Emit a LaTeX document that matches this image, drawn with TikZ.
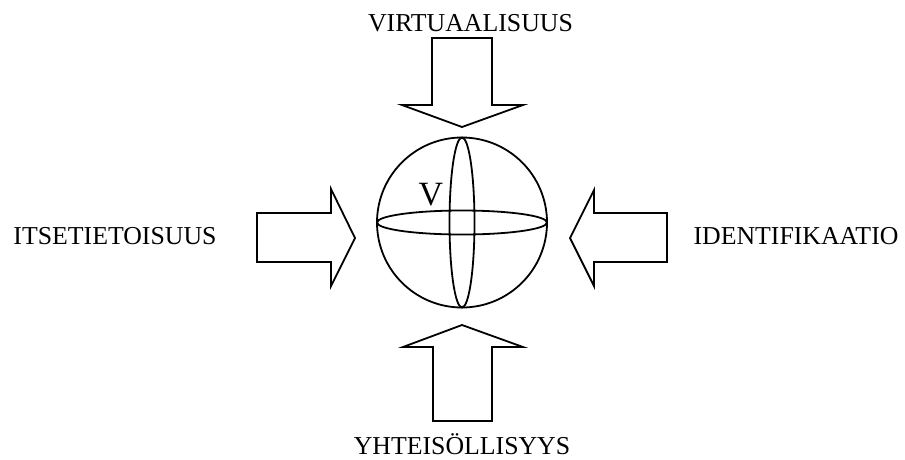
\documentclass[tikz,border=0pt]{standalone}
\usepackage{fontspec}
\setmainfont{Liberation Serif}
\begin{document}
\begin{tikzpicture}[x=1pt,y=-1pt,
  blockarrow/.style={draw=black,line width=1.8pt,fill=white,line join=miter},
  lbl/.style={font=\fontsize{25.8}{28}\selectfont,anchor=base,inner sep=0pt},
  sph/.style={draw=black,line width=1.8pt}]
\useasboundingbox (0,0) rectangle (905,459);
% sphere
\node[sph,circle,minimum size=170pt,inner sep=0pt] (globe) at (462,222.5) {};
\draw[sph] (globe.center) ellipse [x radius=85pt,y radius=12pt];
\draw[sph] (globe.center) ellipse [x radius=12.5pt,y radius=85pt];
\node[font=\fontsize{34}{36}\selectfont,anchor=base,inner sep=0pt] (v) at (431,205) {V};
% arrows
\draw[blockarrow] (432,38) -- (492,38) -- (492,105) -- (523,105) -- (462,127) -- (402,105) -- (432,105) -- cycle;
\draw[blockarrow] (257,213) -- (331,213) -- (331,189) -- (355,238) -- (331,286) -- (331,262) -- (257,262) -- cycle;
\draw[blockarrow] (667,213) -- (594,213) -- (594,190) -- (570,238) -- (594,286) -- (594,262) -- (667,262) -- cycle;
\draw[blockarrow] (433,421) -- (492,421) -- (492,347) -- (523,347) -- (462,325) -- (403,347) -- (433,347) -- cycle;
% labels
\node[lbl] (top) at (470.5,31) {VIRTUAALISUUS};
\node[lbl] (left) at (115,244) {ITSETIETOISUUS};
\node[lbl] (right) at (796,244) {IDENTIFIKAATIO};
\node[lbl] (bottom) at (462,454) {YHTEISÖLLISYYS};
\end{tikzpicture}
\end{document}
